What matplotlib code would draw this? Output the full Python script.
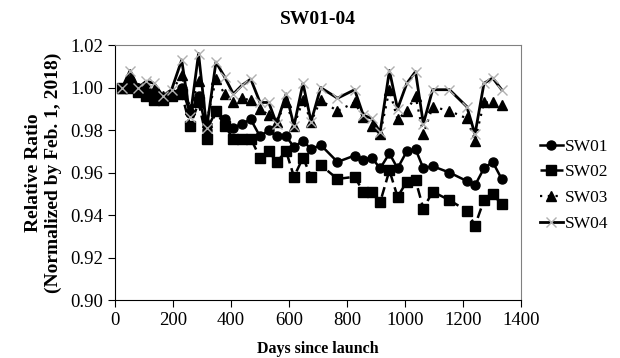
import matplotlib.pyplot as plt

plt.rcParams['font.family'] = ['Liberation Serif', 'DejaVu Serif']

days = [25, 52, 80, 108, 135, 165, 195, 230, 259, 288, 316, 348, 378, 408, 437,
        468, 500, 530, 557, 590, 617, 648, 676, 709, 767, 826, 856, 885, 914, 946,
        974, 1006, 1036, 1063, 1095, 1153, 1213, 1241, 1272, 1302, 1333]

sw01 = [1.000, 1.003, 1.000, 0.999, 0.997, 0.995, 0.997, 1.000, 0.988, 0.996, 0.980,
        0.989, 0.985, 0.981, 0.983, 0.985, 0.977, 0.980, 0.977, 0.977, 0.972, 0.975,
        0.971, 0.973, 0.965, 0.968, 0.966, 0.967, 0.962, 0.969, 0.962, 0.970, 0.971,
        0.962, 0.963, 0.960, 0.956, 0.954, 0.962, 0.965, 0.957]

sw02 = [1.000, 1.000, 0.998, 0.996, 0.994, 0.994, 0.996, 0.997, 0.982, 0.993, 0.976,
        0.989, 0.982, 0.976, 0.976, 0.976, 0.967, 0.970, 0.965, 0.970, 0.958, 0.967,
        0.958, 0.9635, 0.957, 0.958, 0.951, 0.951, 0.946, 0.961, 0.9486, 0.9557, 0.9565,
        0.943, 0.951, 0.947, 0.942, 0.935, 0.947, 0.950, 0.945]

sw03 = [1.000, 1.004, 1.000, 1.001, 0.999, 0.996, 0.998, 1.006, 0.990, 1.003, 0.984,
        1.004, 0.997, 0.993, 0.995, 0.994, 0.990, 0.987, 0.984, 0.993, 0.982, 0.994,
        0.984, 0.994, 0.989, 0.993, 0.986, 0.982, 0.978, 0.999, 0.985, 0.989, 0.996,
        0.978, 0.991, 0.989, 0.9855, 0.975, 0.993, 0.993, 0.992]

sw04 = [1.000, 1.008, 1.000, 1.003, 1.002, 0.996, 0.999, 1.013, 0.986, 1.016, 0.981,
        1.012, 1.005, 0.997, 1.001, 1.004, 0.993, 0.993, 0.983, 0.997, 0.982, 1.002,
        0.984, 1.000, 0.995, 0.999, 0.987, 0.9855, 0.979, 1.008, 0.990, 1.002, 1.0075,
        0.983, 0.999, 0.999, 0.991, 0.978, 1.002, 1.0045, 0.999]

fig = plt.figure(figsize=(6.2, 3.58), dpi=100)
ax = fig.add_axes([0.1855, 0.162, 0.655, 0.712])

ax.plot(days, sw01, color='black', lw=1.8, marker='o', markersize=6.5, label='SW01')
ax.plot(days, sw02, color='black', lw=1.8, linestyle=(0, (4, 2)), marker='s',
        markersize=7, label='SW02')
ax.plot(days, sw03, color='black', lw=1.6, linestyle=(0, (1, 2.5)), marker='^',
        markersize=7, label='SW03')
ax.plot(days, sw04, color='black', lw=2.0, marker='x', markersize=7,
        markeredgecolor='#b0b0b0', markeredgewidth=1.0, label='SW04')

ax.set_xlim(0, 1400)
ax.set_ylim(0.90, 1.02)
ax.set_xticks([0, 200, 400, 600, 800, 1000, 1200, 1400])
ax.set_yticks([0.90, 0.92, 0.94, 0.96, 0.98, 1.00, 1.02])
ax.set_yticklabels(['0.90', '0.92', '0.94', '0.96', '0.98', '1.00', '1.02'])
ax.tick_params(labelsize=13.5, direction='out', length=5, width=0.8)
for s in ['top', 'right']:
    ax.spines[s].set_color('#808080')
for s in ['left', 'bottom']:
    ax.spines[s].set_color('black')

ax.set_title('SW01-04', fontsize=14, fontweight='bold', pad=15)
ax.set_xlabel('Days since launch', fontsize=11.5, fontweight='bold', labelpad=9)
ax.set_ylabel('Relative Ratio\n(Normalized by Feb. 1, 2018)', fontsize=14,
              fontweight='bold', labelpad=6)

fig.legend(loc='center left', bbox_to_anchor=(0.86, 0.483), frameon=False,
           fontsize=12.5, handlelength=1.3, handletextpad=0.15, labelspacing=0.55,
           borderaxespad=0)

fig.savefig('out.png', dpi=100)
